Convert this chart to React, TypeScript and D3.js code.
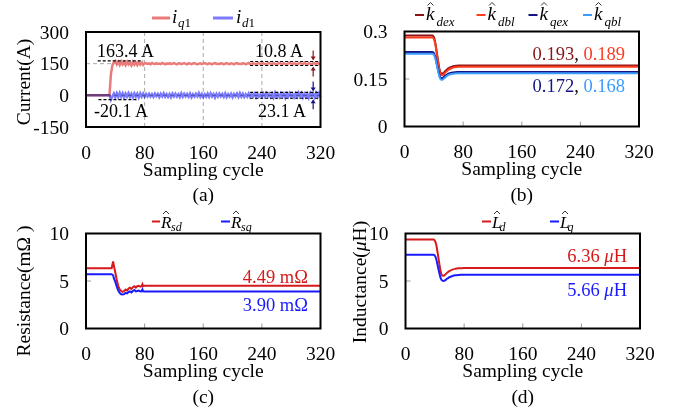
import React from "react";
import * as d3 from "d3";

const FONT = "'Liberation Serif', 'Times New Roman', serif";
const PW = 234.5;
const PH = 95;

const xTicks = [0, 80, 160, 240, 320];

// (a) currents, one sample every 2 cycles
const stepA = 2;
const iq1 = [
  0, 0, 0, 0, 0, 0, 0, 0, 0, 0, 0, 0, 0, 0, 0, 0, 0,
  100, 142, 157, 163, 147, 158, 144, 160, 146, 157, 143, 159, 146, 155, 142, 158, 145, 156, 143, 157, 146, 155, 144, 153,
  152, 149, 151, 147, 153, 150, 148, 152, 149, 151,
  148, 153, 150, 147, 151, 149, 152, 148, 150, 153,
  149, 147, 151, 152, 148, 150, 153, 149, 147, 152,
  150, 148, 151, 153, 149, 147, 150, 152, 148, 151,
  153, 149, 148, 152, 150, 147, 151, 153, 149, 150,
  148, 152, 151, 147, 150, 153, 149, 148, 152, 150,
  147, 151, 153, 149, 150, 148, 152, 151, 147, 150,
  153, 148, 149, 152, 150, 147, 151, 153, 148, 150,
  152, 149, 147, 151, 153, 150, 148, 152, 149, 147,
  151, 153, 150, 148, 152, 149, 147, 151, 154, 150,
  148, 152, 149, 146, 151, 153, 150, 148, 155, 149,
  147, 152, 150, 146, 153, 151, 148, 154, 149, 147,
];
const id1 = [
  0, 0, 0, 0, 0, 0, 0, 0, 0, 0, 0, 0, 0, 0, 0, 0, 0,
  -20, -4, 9, -9, 10, -8, 11, -7, 9, -10, 8, -6, 10, -8, 7, -9, 9, -7, 8, -10, 9, -6, 8, -7,
  6, -5, 7, -6, 5, -7, 8, -4, 6, -8,
  7, -5, 9, -6, 5, -7, 6, -9, 8, -5,
  7, -6, 5, -8, 9, -6, 7, -5, 6, -7,
  8, -9, 5, -6, 7, -5, 10, -7, 6, -8,
  5, -6, 8, -7, 9, -5, 6, -10, 7, -6,
  8, -5, 6, -7, 9, -8, 5, -6, 7, -9,
  6, -5, 8, -7, 10, -6, 7, -8, 5, -6,
  9, -7, 6, -5, 8, -9, 7, -6, 5, -7,
  8, -6, 9, -5, 7, -8, 6, -10, 11, -7,
  6, -8, 9, -5, 7, -11, 8, -6, 10, -7,
  5, -9, 8, -6, 11, -7, 9, -10, 6, -8,
  7, -11, 10, -6, 8, -9, 11, -7, 9, -10,
];
const aTicks = [300, 150, 0, -150];
const aGridY = [150, 0];
const iqPeak = 163.4;
const idPeak = -20.1;
const iqBand = [160, 141];
const idBand = [14, -14];

// (b) gains
const cycB = [0, 38, 40, 42, 44, 46, 48, 50, 52, 54, 56, 58, 60, 64, 68, 72, 76, 80, 320];
const kdex = [0.287, 0.287, 0.283, 0.265, 0.235, 0.205, 0.178, 0.168, 0.167, 0.171, 0.176, 0.18, 0.184, 0.188, 0.191, 0.192, 0.193, 0.193, 0.193];
const kdbl = [0.281, 0.281, 0.277, 0.26, 0.23, 0.2, 0.173, 0.163, 0.162, 0.166, 0.171, 0.175, 0.179, 0.184, 0.187, 0.188, 0.189, 0.189, 0.189];
const kqex = [0.235, 0.235, 0.232, 0.22, 0.2, 0.178, 0.16, 0.153, 0.153, 0.157, 0.161, 0.164, 0.167, 0.17, 0.171, 0.172, 0.172, 0.172, 0.172];
const kqbl = [0.23, 0.23, 0.227, 0.215, 0.195, 0.173, 0.155, 0.148, 0.148, 0.152, 0.156, 0.16, 0.163, 0.166, 0.167, 0.168, 0.168, 0.168, 0.168];
const bTicks = [0.3, 0.15, 0];

// (c) resistances
const cycC = [0, 35, 37, 38, 40, 42, 44, 46, 48, 50, 52, 54, 56, 58, 60, 62, 64, 66, 68, 70, 72, 74, 76, 77, 78, 80, 320];
const rsd = [6.35, 6.35, 7.05, 6.6, 5.9, 5.1, 4.5, 4.1, 3.95, 3.85, 3.95, 4.1, 4.0, 4.2, 4.3, 4.15, 4.35, 4.45, 4.3, 4.45, 4.5, 4.4, 4.45, 4.65, 4.45, 4.49, 4.49];
const rsq = [5.71, 5.71, 5.6, 5.3, 4.9, 4.4, 4.0, 3.75, 3.6, 3.58, 3.62, 3.75, 3.7, 3.85, 3.9, 3.8, 3.95, 4.05, 3.9, 3.95, 4.0, 3.9, 3.92, 4.1, 3.92, 3.9, 3.9];
const cTicks = [10, 5, 0];

// (d) inductances
const cycD = [0, 38, 40, 42, 44, 46, 48, 50, 52, 54, 56, 58, 60, 64, 68, 72, 76, 80, 320];
const ld = [9.36, 9.36, 9.25, 8.8, 7.9, 6.9, 6.0, 5.6, 5.55, 5.65, 5.8, 5.95, 6.05, 6.2, 6.28, 6.33, 6.35, 6.36, 6.36];
const lq = [7.77, 7.77, 7.68, 7.3, 6.6, 5.9, 5.3, 5.05, 5.0, 5.07, 5.2, 5.3, 5.4, 5.52, 5.6, 5.64, 5.66, 5.66, 5.66];
const dTicks = [10, 5, 0];

const C = {
  iq: "#ea7b7b",
  id: "#7b7bff",
  dex: "#8b1414",
  dbl: "#ff3b1f",
  qex: "#141484",
  qbl: "#3a9cff",
  red: "#d61a1a",
  blue: "#1a1aff",
};

const makeX = (left: number) => d3.scaleLinear().domain([0, 320]).range([left, left + PW]);
const makeY = (top: number, dom: [number, number]) =>
  d3.scaleLinear().domain(dom).range([top + PH, top]);

function Axes({ x, y, yTicks, grid, sub, yLabel, labelX, labelY }: any) {
  const [x0, x1] = x.range();
  const [yb, yt] = y.range();
  const mid = yTicks[1];
  return (
    <g fontFamily={FONT} fontSize={19.5}>
      {grid ? (
        <g stroke="#aaa" strokeWidth={1} strokeDasharray="4,3">
          {xTicks.slice(1, -1).map((t) => (
            <line key={t} x1={x(t)} x2={x(t)} y1={yt} y2={yb} />
          ))}
          {aGridY.map((t) => (
            <line key={t} x1={x0} x2={x1} y1={y(t)} y2={y(t)} />
          ))}
        </g>
      ) : (
        <g stroke="#999" strokeWidth={1}>
          {xTicks.slice(1, -1).map((t) => (
            <line key={t} x1={x(t)} x2={x(t)} y1={yb} y2={yb - 5} />
          ))}
          <line x1={x0} x2={x0 + 5} y1={y(mid)} y2={y(mid)} />
        </g>
      )}
      {xTicks.map((t) => (
        <text key={t} x={x(t)} y={yb + 31.5} textAnchor="middle">{t}</text>
      ))}
      {yTicks.map((t: number) => (
        <text key={t} x={x0 - 17} y={y(t) + 6.5} textAnchor="end">{t}</text>
      ))}
      <text x={(x0 + x1) / 2} y={yb + 48.5} textAnchor="middle">Sampling cycle</text>
      <text x={(x0 + x1) / 2} y={yb + 74} textAnchor="middle">{sub}</text>
      {yLabel && (
        <text transform={`translate(${labelX},${labelY}) rotate(-90)`} textAnchor="middle">
          {yLabel}
        </text>
      )}
    </g>
  );
}

// plot frame is drawn after the lines so it sits on top
function Frame({ x, y }: any) {
  const [x0, x1] = x.range();
  const [yb, yt] = y.range();
  return <rect x={x0} y={yt} width={x1 - x0} height={yb - yt} fill="none" stroke="#000" strokeWidth={2} />;
}

const Hat = ({ x, y }: { x: number; y: number }) => (
  <path d={`M${x - 3},${y + 1.5}L${x},${y - 1.5}L${x + 3},${y + 1.5}`} fill="none" stroke="#000" strokeWidth={0.8} />
);

function PanelA() {
  const x = makeX(86);
  const y = makeY(32, [-150, 300]);
  const line = d3.line<number>().x((_, i) => x(i * stepA)).y((d) => y(d));
  const arrow = (cx: number, tip: number, dir: number, color: string, key: string) => (
    <g key={key} stroke={color} fill={color}>
      <line x1={cx} x2={cx} y1={tip - dir * 10} y2={tip - dir * 3} strokeWidth={1.2} />
      <path d={`M${cx - 2.5},${tip - dir * 4}L${cx + 2.5},${tip - dir * 4}L${cx},${tip}Z`} stroke="none" />
    </g>
  );
  const ax = x(310);
  return (
    <g>
      <Axes x={x} y={y} yTicks={aTicks} grid sub="(a)" yLabel="Current(A)" labelX={29.5} labelY={82} />
      <path d={line(iq1)!} fill="none" stroke={C.iq} strokeWidth={2.5} />
      <path d={line(id1)!} fill="none" stroke={C.id} strokeWidth={2.5} style={{ mixBlendMode: "multiply" }} />
      <g stroke="#000" strokeWidth={1.1} strokeDasharray="3,2">
        <line x1={x(16)} x2={x(78)} y1={y(iqPeak)} y2={y(iqPeak)} />
        <line x1={x(17)} x2={x(69)} y1={y(idPeak)} y2={y(idPeak)} />
        {[...iqBand, ...idBand].map((v, i) => (
          <line key={i} x1={x(224)} x2={x(318)} y1={y(v)} y2={y(v)} />
        ))}
      </g>
      {arrow(ax, y(iqBand[0]) - 1, 1, "#8b1414", "a1")}
      {arrow(ax, y(iqBand[1]) + 1, -1, "#8b1414", "a2")}
      {arrow(ax, y(idBand[0]) - 1, 1, "#141484", "a3")}
      {arrow(ax, y(idBand[1]) + 1, -1, "#141484", "a4")}
      <Frame x={x} y={y} />
      <g fontFamily={FONT} fontSize={18}>
        <text x={97} y={56.5}>{iqPeak} A</text>
        <text x={94} y={116.5}>{idPeak} A</text>
        <text x={303} y={56.5} textAnchor="end">10.8 A</text>
        <text x={306} y={116.5} textAnchor="end">23.1 A</text>
      </g>
      <g fontFamily={FONT}>
        <line x1={152} x2={170} y1={18} y2={18} stroke={C.iq} strokeWidth={3} />
        <text x={172} y={23} fontSize={19} fontStyle="italic">i</text>
        <text x={178} y={27} fontSize={13}>
          <tspan fontStyle="italic">q</tspan>1
        </text>
        <line x1={213} x2={233} y1={18} y2={18} stroke={C.id} strokeWidth={3} />
        <text x={236} y={23} fontSize={19} fontStyle="italic">i</text>
        <text x={242} y={27} fontSize={13}>
          <tspan fontStyle="italic">d</tspan>1
        </text>
      </g>
    </g>
  );
}

function PanelB() {
  const x = makeX(404.5);
  const y = makeY(31.5, [0, 0.3]);
  const line = d3.line<number>().x((_, i) => x(cycB[i])).y((d) => y(d)).curve(d3.curveMonotoneX);
  const series = [
    { v: kdex, c: C.dex, s: "dex", lx: 415 },
    { v: kdbl, c: C.dbl, s: "dbl", lx: 476.5 },
    { v: kqex, c: C.qex, s: "qex", lx: 528.5 },
    { v: kqbl, c: C.qbl, s: "qbl", lx: 583 },
  ];
  return (
    <g>
      <Axes x={x} y={y} yTicks={bTicks} sub="(b)" />
      {series.map((s) => (
        <path key={s.s} d={line(s.v)!} fill="none" stroke={s.c} strokeWidth={2} />
      ))}
      <Frame x={x} y={y} />
      <g fontFamily={FONT} fontSize={18.5} textAnchor="end">
        <text x={625} y={59.5}>
          <tspan fill={C.dex}>{kdex[kdex.length - 1]}</tspan>, <tspan fill={C.dbl}>{kdbl[kdbl.length - 1]}</tspan>
        </text>
        <text x={625} y={91.5}>
          <tspan fill={C.qex}>{kqex[kqex.length - 1]}</tspan>, <tspan fill={C.qbl}>{kqbl[kqbl.length - 1]}</tspan>
        </text>
      </g>
      <g fontFamily={FONT} fontStyle="italic">
        {series.map((s) => (
          <g key={s.s}>
            <line x1={s.lx} x2={s.lx + 9} y1={15} y2={15} stroke={s.c} strokeWidth={2} />
            <text x={s.lx + 11} y={20} fontSize={19}>k</text>
            <Hat x={s.lx + 15.5} y={4} />
            <text x={s.lx + 21.5} y={26} fontSize={13}>{s.s}</text>
          </g>
        ))}
      </g>
    </g>
  );
}

function PanelC() {
  const x = makeX(86);
  const y = makeY(233.5, [0, 10]);
  const line = d3.line<number>().x((_, i) => x(cycC[i])).y((d) => y(d));
  return (
    <g>
      <Axes x={x} y={y} yTicks={cTicks} sub="(c)" yLabel="Resistance(mΩ )" labelX={30} labelY={291} />
      <path d={line(rsd)!} fill="none" stroke={C.red} strokeWidth={2} />
      <path d={line(rsq)!} fill="none" stroke={C.blue} strokeWidth={2} />
      <Frame x={x} y={y} />
      <g fontFamily={FONT} fontSize={18.5} textAnchor="end">
        <text x={308} y={283} fill={C.red}>{rsd[rsd.length - 1]} mΩ</text>
        <text x={308} y={310.5} fill={C.blue}>{rsq[rsq.length - 1].toFixed(2)} mΩ</text>
      </g>
      <g fontFamily={FONT} fontStyle="italic">
        <line x1={152} x2={160} y1={221.5} y2={221.5} stroke={C.red} strokeWidth={2} />
        <text x={161} y={228} fontSize={17}>R</text>
        <Hat x={166} y={212.5} />
        <text x={171} y={231} fontSize={12}>sd</text>
        <line x1={221} x2={230} y1={221.5} y2={221.5} stroke={C.blue} strokeWidth={2} />
        <text x={231} y={228} fontSize={17}>R</text>
        <Hat x={236} y={212.5} />
        <text x={241} y={231} fontSize={12}>sq</text>
      </g>
    </g>
  );
}

function PanelD() {
  const x = makeX(405.5);
  const y = makeY(233.5, [0, 10]);
  const line = d3.line<number>().x((_, i) => x(cycD[i])).y((d) => y(d)).curve(d3.curveMonotoneX);
  return (
    <g>
      <Axes
        x={x}
        y={y}
        yTicks={dTicks}
        sub="(d)"
        yLabel={
          <>
            Inductance(<tspan fontStyle="italic">μ</tspan>H)
          </>
        }
        labelX={366}
        labelY={282}
      />
      <path d={line(ld)!} fill="none" stroke={C.red} strokeWidth={2} />
      <path d={line(lq)!} fill="none" stroke={C.blue} strokeWidth={2} />
      <Frame x={x} y={y} />
      <g fontFamily={FONT} fontSize={18.5} textAnchor="end">
        <text x={627} y={262} fill={C.red}>
          {ld[ld.length - 1]} <tspan fontStyle="italic">μ</tspan>H
        </text>
        <text x={627} y={295.5} fill={C.blue}>
          {lq[lq.length - 1]} <tspan fontStyle="italic">μ</tspan>H
        </text>
      </g>
      <g fontFamily={FONT} fontStyle="italic">
        <line x1={482} x2={491} y1={221.5} y2={221.5} stroke={C.red} strokeWidth={2} />
        <text x={492} y={228} fontSize={17}>L</text>
        <Hat x={497} y={212.5} />
        <text x={499.5} y={231} fontSize={12}>d</text>
        <line x1={550} x2={559} y1={221.5} y2={221.5} stroke={C.blue} strokeWidth={2} />
        <text x={560} y={228} fontSize={17}>L</text>
        <Hat x={565} y={212.5} />
        <text x={567.5} y={231} fontSize={12}>q</text>
      </g>
    </g>
  );
}

export default function App() {
  return (
    <svg
      width={680}
      height={415}
      viewBox="0 0 680 415"
      style={{ position: "absolute", left: 0, top: 0, background: "#fff" }}
    >
      <rect width={680} height={415} fill="#fff" />
      <PanelA />
      <PanelB />
      <PanelC />
      <PanelD />
    </svg>
  );
}
